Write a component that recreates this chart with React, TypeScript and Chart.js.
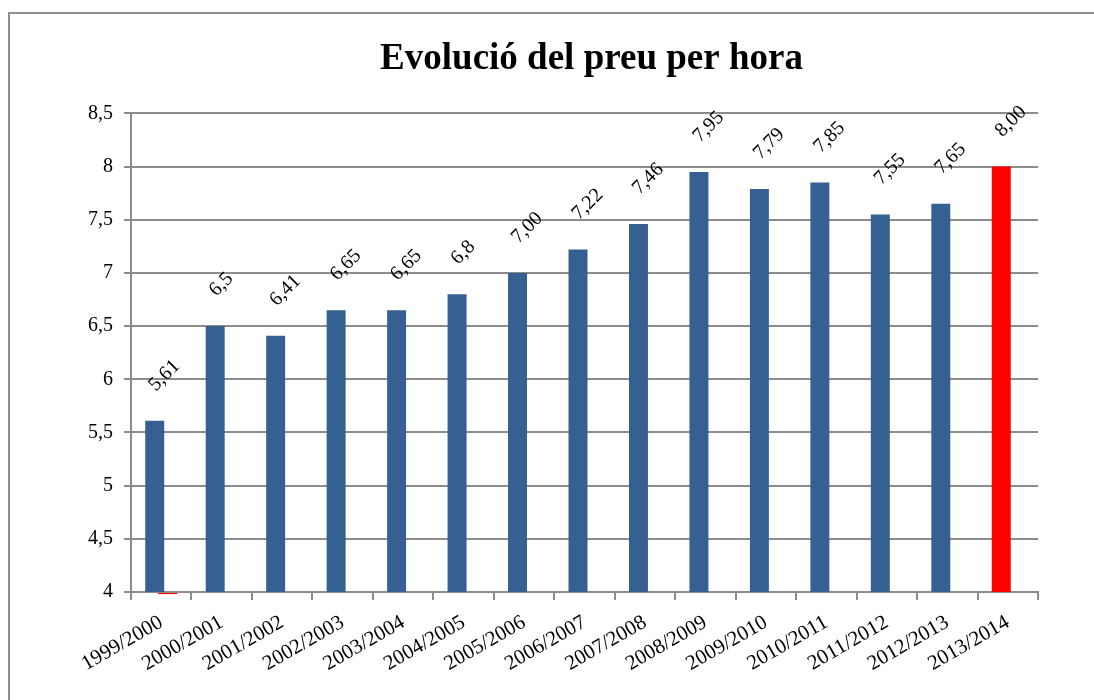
import React, { useEffect, useRef } from "react";
import { Chart, registerables } from "chart.js";

Chart.register(...registerables);

const categories = [
  "1999/2000", "2000/2001", "2001/2002", "2002/2003", "2003/2004",
  "2004/2005", "2005/2006", "2006/2007", "2007/2008", "2008/2009",
  "2009/2010", "2010/2011", "2011/2012", "2012/2013", "2013/2014",
];
const priceValues = [5.61, 6.5, 6.41, 6.65, 6.65, 6.8, 7.0, 7.22, 7.46, 7.95, 7.79, 7.85, 7.55, 7.65, 8.0];
const valueLabels = ["5,61", "6,5", "6,41", "6,65", "6,65", "6,8", "7,00", "7,22", "7,46", "7,95", "7,79", "7,85", "7,55", "7,65", "8,00"];
// second (red) series: only a near-zero mark in the first period
const redValues = [3.98, null, null, null, null, null, null, null, null, null, null, null, null, null, null];
const titleText = "Evolució del preu per hora";

const BLUE = "#376092";
const RED = "#ff0000";
const GRID = "#8c8c8c";
const FONT = '"Liberation Serif", "Times New Roman", serif';

const valueLabelPlugin = {
  id: "valueLabels",
  afterDatasetsDraw(chart: any) {
    const ctx = chart.ctx;
    const meta = chart.getDatasetMeta(0);
    ctx.save();
    ctx.font = `20px ${FONT}`;
    ctx.fillStyle = "#000";
    ctx.textAlign = "left";
    ctx.textBaseline = "alphabetic";
    meta.data.forEach((bar: any, i: number) => {
      ctx.save();
      ctx.translate(bar.x + 1, bar.y - 29);
      ctx.rotate(-Math.PI / 4);
      ctx.fillText(valueLabels[i], 0, 0);
      ctx.restore();
    });
    ctx.restore();
  },
};

export default function App() {
  const ref = useRef<HTMLCanvasElement>(null);

  useEffect(() => {
    Chart.defaults.font.family = FONT;
    Chart.defaults.font.size = 20;
    Chart.defaults.color = "#000";
    const chart = new Chart(ref.current!, {
      type: "bar",
      data: {
        labels: categories,
        datasets: [
          {
            data: priceValues,
            backgroundColor: priceValues.map((_, i) => (i === priceValues.length - 1 ? RED : BLUE)),
            categoryPercentage: 0.43,
            barPercentage: 1.46,
          },
          {
            data: redValues as any,
            backgroundColor: RED,
            base: 4,
            categoryPercentage: 0.43,
            barPercentage: 1.46,
            clip: false as any,
          },
        ],
      },
      options: {
        responsive: false,
        animation: false,
        layout: { padding: 0 },
        plugins: {
          legend: { display: false },
          tooltip: { enabled: false },
          title: {
            display: true,
            text: titleText,
            color: "#000",
            font: { size: 37, weight: "bold", family: FONT },
            padding: { top: 23, bottom: 32 },
          },
        },
        scales: {
          x: {
            offset: true,
            grid: {
              offset: true,
              drawOnChartArea: false,
              drawTicks: true,
              tickLength: 8,
              color: GRID,
              lineWidth: 2,
            },
            border: { display: true, color: GRID, width: 2 },
            ticks: {
              autoSkip: false,
              maxRotation: 30,
              minRotation: 30,
              padding: 10,
              font: { size: 21, family: FONT },
              color: "#000",
            },
            afterFit: (scale: any) => {
              scale.height = 122;
            },
          },
          y: {
            min: 4,
            max: 8.5,
            grid: { color: GRID, lineWidth: 2, tickLength: 7 },
            border: { display: true, color: GRID, width: 2 },
            ticks: {
              stepSize: 0.5,
              padding: 11,
              font: { size: 20, family: FONT },
              color: "#000",
              callback: (v: any) => String(v).replace(".", ","),
            },
            afterFit: (scale: any) => {
              scale.width = 121;
            },
          },
          yRight: {
            type: "linear",
            position: "right",
            display: true,
            grid: { display: false, drawOnChartArea: false },
            border: { display: false },
            ticks: { display: false },
            afterFit: (scale: any) => {
              scale.width = 135;
            },
          },
        },
      },
      plugins: [valueLabelPlugin],
    });
    return () => chart.destroy();
  }, []);

  return (
    <div
      style={{
        position: "fixed",
        left: 8,
        top: 12,
        width: 1200,
        height: 800,
        border: "2px solid #8f8f8f",
        background: "#fff",
        overflow: "hidden",
      }}
    >
      <canvas ref={ref} width={1163} height={700} style={{ display: "block" }} />
    </div>
  );
}
